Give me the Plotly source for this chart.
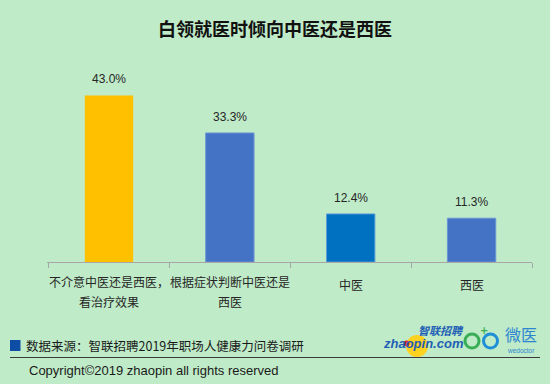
import plotly.graph_objects as go

# ---- data ----
categories = ["不介意中医还是西医，看治疗效果", "根据症状判断中医还是西医", "中医", "西医"]
label_lines = [["不介意中医还是西医，", "看治疗效果"], ["根据症状判断中医还是", "西医"], ["中医"], ["西医"]]
values = [43.0, 33.3, 12.4, 11.3]
bar_colors = ["#FFC000", "#4472C4", "#0070C0", "#4472C4"]
title_text = "白领就医时倾向中医还是西医"
source_text = "数据来源：智联招聘2019年职场人健康力问卷调研"
copyright_text = "Copyright©2019 zhaopin all rights reserved"

W, H = 550, 384
ML, MR, MT, MB = 47, 18, 76, 122
PW, PH = W - ML - MR, H - MT - MB
BG = "#BFEBC8"
FONT = "Liberation Sans, Arial, Noto Sans CJK SC, sans-serif"
CJK = "Noto Sans CJK SC, Liberation Sans, sans-serif"


def px(x):
    return (x - ML) / PW


def py(y):
    return (H - MB - y) / PH


fig = go.Figure()
fig.add_trace(go.Bar(
    x=categories, y=values, width=0.4,
    marker=dict(color=bar_colors,
                line=dict(color=["rgba(0,0,0,0)", "#6B95D6", "#5B9BD5", "#6B95D6"], width=1)),
    hoverinfo="skip",
))

annotations = []
# value labels
for c, v in zip(categories, values):
    annotations.append(dict(x=c, y=v, xref="x", yref="y", text=f"{v:.1f}%",
                            showarrow=False, xanchor="center", yanchor="bottom", yshift=7,
                            font=dict(size=12, color="#262626", family=FONT)))
# category labels
for c, lines in zip(categories, label_lines):
    for i, ln in enumerate(lines):
        yy = 281 + 20 * i if len(lines) > 1 else 284
        annotations.append(dict(x=c, y=py(yy), xref="x", yref="paper", text=ln,
                                showarrow=False, xanchor="center", yanchor="middle",
                                font=dict(size=12, color="#262626", family=CJK)))


def note(x, y, text, size, color, family, xanchor="center"):
    annotations.append(dict(x=px(x), y=py(y), xref="paper", yref="paper", text=text,
                            showarrow=False, xanchor=xanchor, yanchor="middle",
                            font=dict(size=size, color=color, family=family)))


# title
note(275, 28, f"<b>{title_text}</b>", 18, "#111111", CJK)
# footer
note(24, 345.5, source_text, 12.5, "#1a1a1a", CJK, "left")
note(27, 370, copyright_text, 13, "#1a1a1a", FONT, "left")
# logos (approximation)
note(441, 329.5, "<b><i>智联招聘</i></b>", 11, "#1F5FB5", CJK)
note(423.5, 343.5, "<b><i>zhaopin.com</i></b>", 13, "#1F5FB5", FONT)
note(484, 330, "<b>+</b>", 10, "#3AAE56", "DejaVu Sans")
note(521, 334, "微医", 16, "#2E86D0", CJK)
note(521, 350, "wedoctor", 6.5, "#2E86D0", FONT)


def circ(cx, cy, r, **kw):
    return dict(type="circle", xref="paper", yref="paper", x0=px(cx - r), x1=px(cx + r),
                y0=py(cy + r), y1=py(cy - r), **kw)


shapes = [
    dict(type="rect", xref="paper", yref="paper", x0=px(10), x1=px(20.5), y0=py(351), y1=py(340),
         fillcolor="#0E4DA4", line=dict(width=0)),
    dict(type="line", xref="paper", yref="paper", x0=px(10), x1=px(540), y0=py(357.5), y1=py(357.5),
         line=dict(color="#3a3a3a", width=1)),
    circ(417, 346, 11, fillcolor="#FFD21F", line=dict(width=0), layer="below"),
    circ(406.5, 343.5, 3, fillcolor="#E3262B", line=dict(width=0)),
    circ(472, 341, 7, fillcolor="rgba(0,0,0,0)", line=dict(color="#3AAE56", width=3)),
    circ(490.5, 341, 7, fillcolor="rgba(0,0,0,0)", line=dict(color="#1E8FD6", width=3)),
]

fig.update_layout(
    width=W, height=H,
    margin=dict(l=ML, r=MR, t=MT, b=MB),
    paper_bgcolor=BG, plot_bgcolor=BG,
    showlegend=False,
    annotations=annotations,
    shapes=shapes,
    font=dict(family=FONT),
)
fig.update_xaxes(type="category", showticklabels=False, showline=True, linecolor="#A6A6A6", linewidth=1,
                 ticks="outside", tickson="boundaries", ticklen=5, tickcolor="#A6A6A6",
                 showgrid=False, zeroline=False, fixedrange=True)
fig.update_yaxes(range=[0, 48], visible=False, showgrid=False, zeroline=False, fixedrange=True)

fig.write_html("out.html", config={"displayModeBar": False},
               post_script="document.body.style.margin='0';document.body.style.background='" + BG + "';")
